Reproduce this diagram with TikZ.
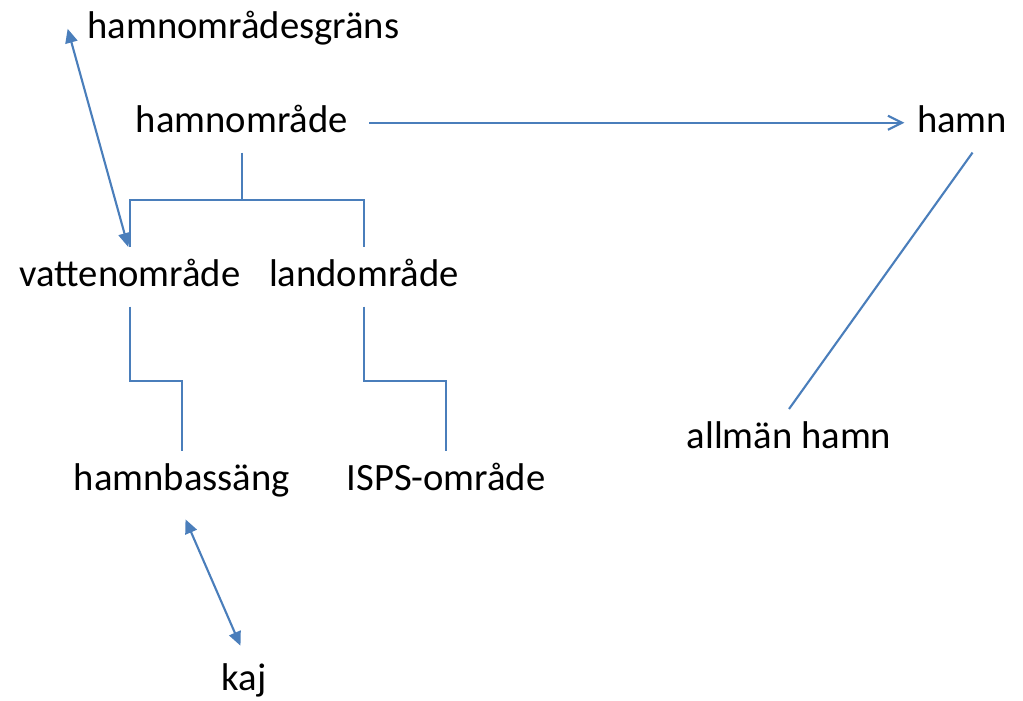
\documentclass[tikz,border=0pt]{standalone}
\usepackage{fontspec}
\setmainfont{Carlito}
\usepackage{tikz}
\usetikzlibrary{arrows.meta}
\definecolor{linkblue}{RGB}{74,126,187}

\begin{document}
\begin{tikzpicture}[x=0.02cm, y=-0.02cm,
		term/.style={font=\fontsize{22}{26}\selectfont, inner sep=0pt, text height=22pt, text depth=11.5pt, anchor=base},
		link/.style={draw=linkblue, line width=1.2pt},
		twoway/.style={link, {Triangle[length=8pt,width=7pt]}-{Triangle[length=8pt,width=7pt]}},
		oneway/.style={link, -{Straight Barb[length=8pt,width=8pt]}}]
			\useasboundingbox (0,0) rectangle (1023,700);

			\node[term, anchor=base west] (grans) at (87,38) {hamnområdesgräns};
			\node[term] (hamnomr) at (242,132) {hamnområde};
			\node[term] (hamn) at (962,132) {hamn};
			\node[term] (vatten) at (130,286) {vattenområde};
			\node[term] (land) at (364,286) {landområde};
			\node[term] (allman) at (789,448) {allmän hamn};
			\node[term] (bassang) at (182,490) {hamnbassäng};
			\node[term] (isps) at (446,490) {ISPS-område};
			\node[term] (kaj) at (244,690) {kaj};

			\draw[oneway, shorten <=12pt, shorten >=7pt] (hamnomr.east) -- (hamn.west);
			\draw[link] ([xshift=6pt]hamn.south) -- (allman.north);

			\draw[link] (hamnomr.south) -- ++(0,47) coordinate (fork);
			\draw[link] (vatten.north) |- (fork) -| (land.north);
			\draw[twoway] ([xshift=-11pt]grans.west) -- ([xshift=-1pt]vatten.north);

			\draw[link] (vatten.south) -- ++(0,74) -| (bassang.north);
			\draw[link] (land.south) -- ++(0,74) -| (isps.north);

			\draw[twoway] ([shift={(2pt,-5pt)}]bassang.south) -- ([shift={(-2pt,3pt)}]kaj.north);
		\end{tikzpicture}
\end{document}
